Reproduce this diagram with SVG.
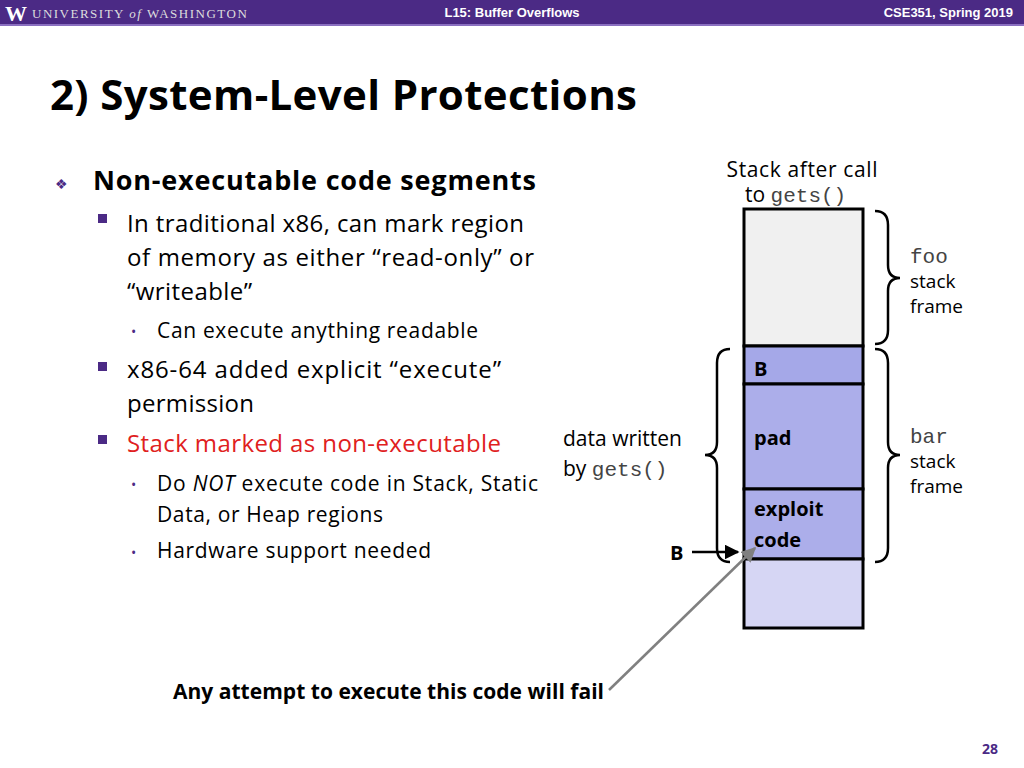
<svg xmlns="http://www.w3.org/2000/svg" width="1024" height="768" viewBox="0 0 1024 768">
<style>
text{font-family:"Open Sans","Noto Sans","Liberation Sans",sans-serif;fill:#000}
.b{font-weight:bold}
.m{font-family:"Liberation Mono","DejaVu Sans Mono",monospace;fill:#444}
.hdr{font-family:"Liberation Sans Narrow","Liberation Sans",sans-serif;font-weight:bold;fill:#fff;font-size:13px}
.cell{stroke:#000;stroke-width:3}
.br{fill:none;stroke:#000;stroke-width:2.5}
</style>
<defs>
<marker id="ah" viewBox="0 0 10 10" refX="9" refY="5" markerWidth="6" markerHeight="6" orient="auto"><path d="M0,0L10,5L0,10z" fill="#000"/></marker>
<marker id="ag" viewBox="0 0 10 10" refX="9" refY="5" markerWidth="6" markerHeight="6" orient="auto"><path d="M0,0L10,5L0,10z" fill="#808080"/></marker>
</defs>
<rect width="1024" height="768" fill="#fff"/>
<rect width="1024" height="25" fill="#4b2a85"/>
<rect y="24" width="1024" height="2" fill="#8a6fc0"/>
<text x="5" y="21" style="font-family:'Liberation Serif',serif;font-weight:bold;fill:#fff;font-size:22px">W</text>
<text x="32" y="18" style="font-family:'Liberation Serif',serif;fill:#ddd;font-size:13px;letter-spacing:1.5px">UNIVERSITY <tspan font-style="italic">of</tspan> WASHINGTON</text>
<text x="512" y="17" text-anchor="middle" class="hdr">L15: Buffer Overflows</text>
<text x="1013" y="17" text-anchor="end" class="hdr">CSE351, Spring 2019</text>
<text x="50" y="110" class="b" font-size="42" textLength="587">2) System-Level Protections</text>
<text x="55" y="189" font-size="14" style="fill:#4b2a85">❖</text>
<text x="93" y="190" class="b" font-size="27" textLength="443">Non-executable code segments</text>
<rect x="98" y="214" width="9" height="9" fill="#4b2a85"/>
<text x="127" y="232" font-size="24" textLength="397">In traditional x86, can mark region</text>
<text x="127" y="266" font-size="24" textLength="407">of memory as either “read-only” or</text>
<text x="127" y="300" font-size="24" textLength="125">“writeable”</text>
<text x="131" y="337" font-size="14" style="fill:#4b2a85">•</text>
<text x="157" y="338" font-size="21" textLength="321">Can execute anything readable</text>
<rect x="98" y="362" width="9" height="9" fill="#4b2a85"/>
<text x="127" y="378" font-size="24" textLength="374">x86-64 added  explicit “execute”</text>
<text x="127" y="412" font-size="24" textLength="127">permission</text>
<rect x="98" y="435" width="9" height="9" fill="#4b2a85"/>
<text x="127" y="452" font-size="24" style="fill:#e02020" textLength="374">Stack marked as non-executable</text>
<text x="131" y="490" font-size="14" style="fill:#4b2a85">•</text>
<text x="157" y="491" font-size="21" textLength="381">Do <tspan font-style="italic">NOT</tspan> execute code in Stack, Static</text>
<text x="157" y="522" font-size="21" textLength="226">Data, or Heap regions</text>
<text x="131" y="558" font-size="14" style="fill:#4b2a85">•</text>
<text x="157" y="558" font-size="21" textLength="274">Hardware support needed</text>
<text x="802" y="177" text-anchor="middle" font-size="21" textLength="151">Stack after call</text>
<text x="745" y="202" font-size="21">to <tspan class="m">gets()</tspan></text>
<g id="stack">
<rect class="cell" x="744" y="209" width="119" height="137" fill="#f0f0f0"/>
<rect class="cell" x="744" y="346" width="119" height="38" fill="#a5a8e8"/>
<rect class="cell" x="744" y="384" width="119" height="105" fill="#acaeea"/>
<rect class="cell" x="744" y="489" width="119" height="70" fill="#acaeea"/>
<rect class="cell" x="744" y="559" width="119" height="69" fill="#d6d6f4"/>
<text x="754" y="376" class="b" font-size="20">B</text>
<text x="754" y="445" class="b" font-size="20">pad</text>
<text x="754" y="516" class="b" font-size="20">exploit</text>
<text x="754" y="547" class="b" font-size="20">code</text>
</g>
<g id="braces">
<path class="br" d="M875,211 Q888,211 888,225 L888,265 Q888,278 900,278 Q888,278 888,291 L888,330 Q888,344 875,344"/>
<path class="br" d="M875,349 Q888,349 888,363 L888,442 Q888,455 900,455 Q888,455 888,468 L888,548 Q888,562 875,562"/>
<path class="br" d="M730,349 Q717,349 717,363 L717,442 Q717,455 705,455 Q717,455 717,468 L717,548 Q717,562 730,562"/>
</g>
<text x="910" y="263" class="m" font-size="21">foo</text>
<text x="910" y="288" font-size="19">stack</text>
<text x="910" y="313" font-size="19">frame</text>
<text x="910" y="443" class="m" font-size="21">bar</text>
<text x="910" y="468" font-size="19">stack</text>
<text x="910" y="493" font-size="19">frame</text>
<text x="563" y="446" font-size="21">data written</text>
<text x="563" y="476" font-size="21">by <tspan class="m">gets()</tspan></text>
<text x="670" y="560" class="b" font-size="20">B</text>
<g id="connectors">
<line x1="692" y1="552" x2="738" y2="552" stroke="#000" stroke-width="2.5" marker-end="url(#ah)"/>
<line x1="609" y1="690" x2="755" y2="548" stroke="#808080" stroke-width="2.5" marker-end="url(#ag)"/>
</g>
<text x="173" y="699" class="b" font-size="21" textLength="431">Any attempt to execute this code will fail</text>
<text x="998" y="754" text-anchor="end" font-size="14" style="fill:#4b2a85;font-weight:bold">28</text>
</svg>
